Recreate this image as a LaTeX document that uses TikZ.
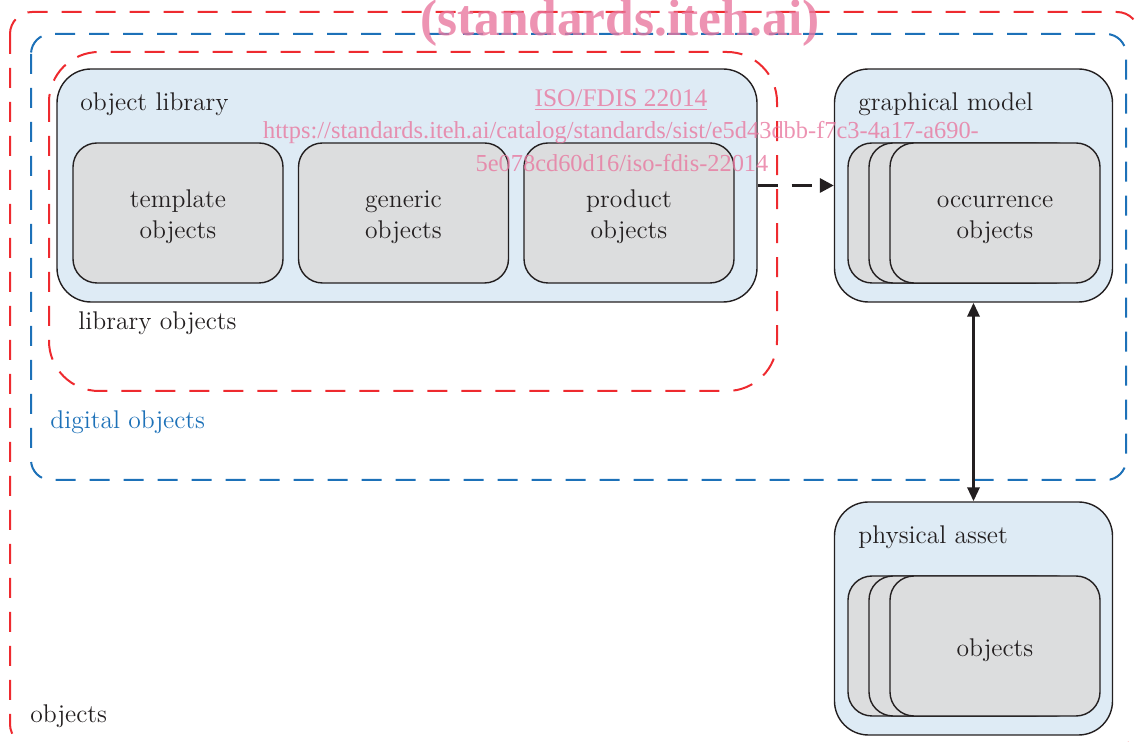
\documentclass[tikz,border=0pt]{standalone}
\usepackage{fontspec}
\newfontfamily\wmfont{Liberation Serif}
\usetikzlibrary{arrows.meta}

\definecolor{libblue}{HTML}{DEEBF5}
\definecolor{objgray}{HTML}{DCDDDE}
\definecolor{framered}{HTML}{EE2A2F}
\definecolor{frameblue}{HTML}{1D71B8}
\definecolor{inkblack}{HTML}{231F20}
\definecolor{wmpink}{HTML}{E8789F}

\newcommand{\boxfont}{\fontsize{12.8}{15.5}\selectfont}
% taller strut on the first line pushes the box text a little down
\newcommand{\topstrut}{\rule{0pt}{14.9pt}}

\tikzset{
  container/.style={draw=inkblack, line width=0.7pt, fill=libblue, rounded corners=17pt,
    minimum width=139pt, minimum height=116.5pt},
  objbox/.style={draw=inkblack, line width=0.7pt, fill=objgray, rounded corners=12pt,
    minimum width=105pt, minimum height=70pt, align=center, font=\boxfont, text=inkblack},
  boxtitle/.style={anchor=west, inner sep=0pt, text=inkblack, font=\boxfont},
  groupframe/.style={line width=1pt, dash pattern=on 10pt off 7pt},
  watermark/.style={text=wmpink, text opacity=0.8, font=\wmfont, inner sep=0pt}
}

\begin{document}
\begin{tikzpicture}[x=0.5pt, y=-0.5pt]
        \useasboundingbox (0,0) rectangle (1136,742);
        \clip (0,0) rectangle (1136,742);

        % Group frames
        \draw[groupframe, framered, rounded corners=11pt] (10,12) rectangle (1139,746);
        \draw[groupframe, frameblue, rounded corners=10pt] (31,34) rectangle (1126,480);
        \draw[groupframe, framered, rounded corners=25pt] (49,52) rectangle (777,391);

        % Object library with its three kinds of objects
        \node[container, minimum width=350pt] (objlib) at (407,185.5) {};
        \node[boxtitle] (objlibtitle) at (80,104) {object library};
        \node[objbox] (template) at (178,213) {\topstrut template\\\strut objects};
        \node[objbox] (generic) at (403.5,213) {\topstrut generic\\\strut objects};
        \node[objbox] (product) at (629,213) {\topstrut product\\\strut objects};
        \node[boxtitle] (libobjects) at (78,323) {library objects};

        % Graphical model
        \node[container] (graphmodel) at (973.5,185.5) {};
        \node[boxtitle] (graphtitle) at (858,104) {graphical model};
        \node[objbox] (occback1) at (953,213) {};
        \node[objbox] (occback2) at (974,213) {};
        \node[objbox] (occurrence) at (995,213) {\topstrut occurrence\\\strut objects};

        % Physical asset
        \node[container] (physical) at (973.5,618.5) {};
        \node[boxtitle] (phystitle) at (858,537) {physical asset};
        \node[objbox] (physback1) at (953,646) {};
        \node[objbox] (physback2) at (974,646) {};
        \node[objbox] (physobjects) at (995,646) {\topstrut\strut objects};

        % Frame labels
        \node[boxtitle, text=frameblue] (digital) at (50,422) {digital objects};
        \node[boxtitle] (allobjects) at (30,716) {objects};

        % Connectors
        \draw[inkblack, line width=1.6pt, dash pattern=on 10pt off 7pt, -{Triangle[length=7pt,width=7pt]}]
          (objlib.east) -- (graphmodel.west);
        \draw[inkblack, line width=1.6pt, {Triangle[length=7pt,width=6pt]}-{Triangle[length=7pt,width=6pt]}]
          (graphmodel.south) -- (physical.north);

        % Watermark
        \node[watermark, font=\wmfont\bfseries\fontsize{25.7}{28}\selectfont] (wmsite) at (620,23) {(standards.iteh.ai)};
        \node[watermark, font=\wmfont\fontsize{12.7}{15}\selectfont] (wmtitle) at (621,100) {\underline{ISO/FDIS 22014}};
        \node[watermark, font=\wmfont\fontsize{12.2}{15}\selectfont] (wmurl) at (621,133) {https://standards.iteh.ai/catalog/standards/sist/e5d43dbb-f7c3-4a17-a690-};
        \node[watermark, font=\wmfont\fontsize{12.2}{15}\selectfont] (wmurltail) at (622,163) {5e078cd60d16/iso-fdis-22014};
\end{tikzpicture}
\end{document}
